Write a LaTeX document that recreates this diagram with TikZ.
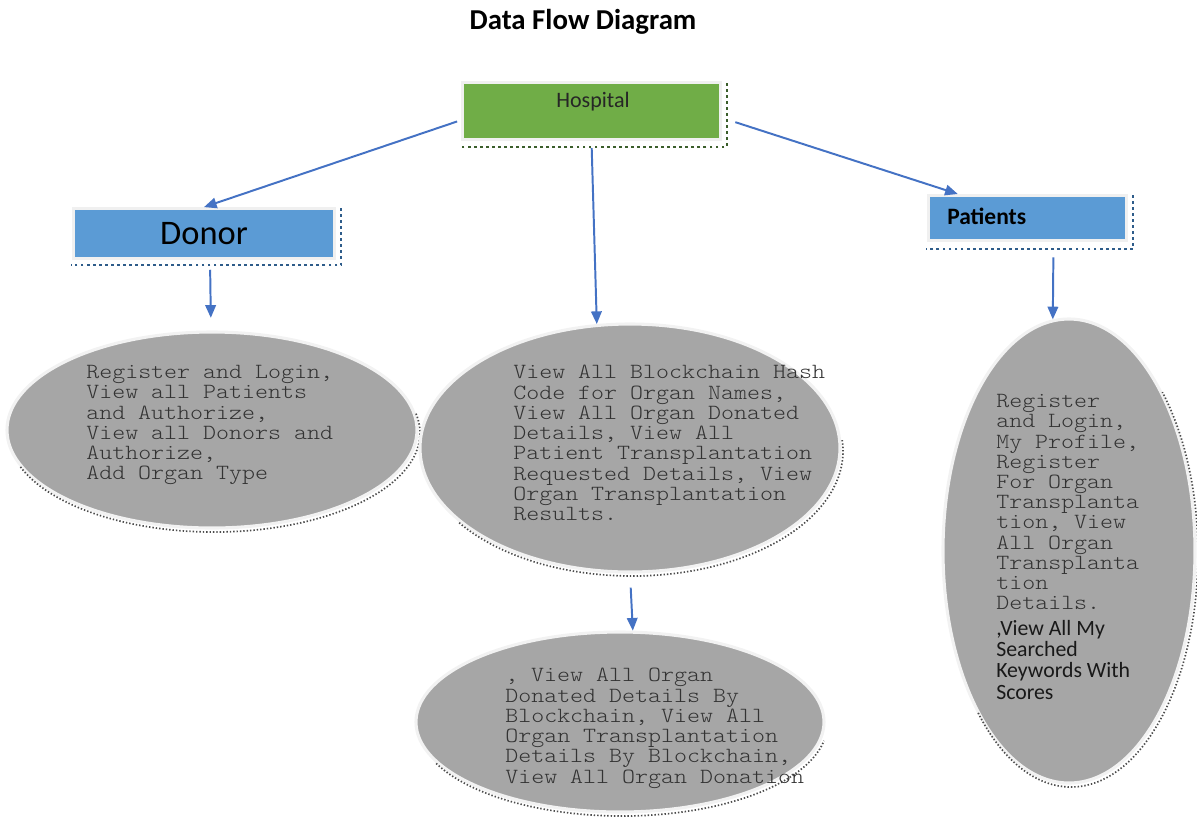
\documentclass[tikz,border=0pt]{standalone}
\usepackage{fontspec}
\setmainfont{Carlito}
\setmonofont[FakeStretch=1.143]{lmmonolt10-regular.otf}
\usetikzlibrary{arrows.meta,shapes.geometric}

\definecolor{hospgreen}{HTML}{70AD47}
\definecolor{hospdark}{HTML}{3B5E2B}
\definecolor{roleblue}{HTML}{5B9BD5}
\definecolor{roledark}{HTML}{2E5C8A}
\definecolor{taskgray}{HTML}{A6A6A6}
\definecolor{flowblue}{HTML}{4472C4}

% fixed line spacing, even where the glyphs are taller than it
\newcommand\tightlines{\lineskiplimit -20pt\relax\lineskip 0pt\relax}

\begin{document}
\begin{tikzpicture}[x=0.25mm,y=0.25mm,
  box/.style={rectangle,draw=gray!12,line width=2pt,inner sep=0pt},
  boxdots/.style={line width=1.9pt,dash pattern=on 2pt off 2.3pt},
  task/.style={ellipse,fill=taskgray,draw=gray!10,line width=2.2pt,inner sep=0pt},
  taskdots/.style={gray!60!black,line width=1.2pt,dash pattern=on 1pt off 1.4pt},
  tasktext/.style={anchor=north west,align=left,inner sep=0pt,text=black!80,
    font=\ttfamily\fontsize{15.4}{14.4}\selectfont\tightlines},
  flow/.style={flowblue,line width=1.4pt,-{Triangle[length=9pt,width=7.5pt]}}]
\useasboundingbox (0,0) rectangle (1197,-830);

\node[font=\bfseries\fontsize{20.5}{24}\selectfont] (title) at (583,-22) {Data Flow Diagram};

%% hospital, donor and patients boxes
\node[box,fill=hospgreen,minimum width=64.5mm,minimum height=14.3mm] (hosp) at (591.5,-111) {};
\node[text=black!85,font=\fontsize{15.7}{18}\selectfont] (hosplabel) at (593,-102) {Hospital};
\draw[boxdots,hospdark] ([shift={(5,-2)}]hosp.north east) |- ([shift={(-1,-6)}]hosp.south west);

\node[box,fill=roleblue,minimum width=65.3mm,minimum height=12.5mm,
  font=\fontsize{24.5}{28}\selectfont] (donor) at (204,-233.5) {Donor};
\draw[boxdots,roledark] ([shift={(5,-1)}]donor.north east) |- ([shift={(-1,-5)}]donor.south west);

\node[box,fill=roleblue,minimum width=49.6mm,minimum height=11.3mm] (pat) at (1027.5,-218) {};
\node[anchor=west,inner sep=0pt,font=\bfseries\fontsize{16.7}{20}\selectfont] (patlabel) at (947,-216) {Patients};
\draw[boxdots,roledark] ([shift={(5,-1)}]pat.north east) |- ([shift={(-1,-7)}]pat.south west);

%% process ovals
\node[task,minimum width=102.5mm,minimum height=49mm] (dtask) at (212,-430) {};
\draw[taskdots] ([shift={(2,-3)}]dtask.center) ++(200:206 and 99) arc[start angle=200,end angle=372,x radius=206,y radius=99];
\node[tasktext] (dtext) at (86,-365) {Register and Login,\\View all Patients\\and Authorize,\\View all Donors and\\Authorize,\\Add Organ Type};

\node[task,minimum width=105mm,minimum height=62mm] (mtask) at (630,-448) {};
\draw[taskdots] ([shift={(2,-3)}]mtask.center) ++(215:211 and 125) arc[start angle=215,end angle=365,x radius=211,y radius=125];
\node[tasktext] (mtext) at (513,-365) {View All Blockchain Hash\\Code for Organ Names,\\View All Organ Donated\\Details, View All\\Patient Transplantation\\Requested Details, View\\Organ Transplantation\\Results.};

\node[task,minimum width=102mm,minimum height=45mm] (btask) at (620,-722) {};
\draw[taskdots] ([shift={(2,-3)}]btask.center) ++(205:205 and 91) arc[start angle=205,end angle=350,x radius=205,y radius=91];
\node[tasktext] (btext) at (505,-668) {, View All Organ\\Donated Details By\\Blockchain, View All\\Organ Transplantation\\Details By Blockchain,\\View All Organ Donation};

\node[task,minimum width=63mm,minimum height=116mm] (ptask) at (1069,-551) {};
\draw[taskdots] ([shift={(2,-3)}]ptask.center) ++(223:127 and 233) arc[start angle=223,end angle=404,x radius=127,y radius=233];
\node[tasktext] (ptext) at (996,-394) {Register\\and Login,\\My Profile,\\Register\\For Organ\\Transplanta\\tion, View\\All Organ\\Transplanta\\tion\\Details.};
\node[anchor=north west,align=left,inner sep=0pt,text=black!90,
  font=\fontsize{15.5}{15.1}\selectfont\tightlines] (psearch) at (996,-620) {,View All My\\Searched\\Keywords With\\Scores};

%% flows
\draw[flow,shorten <=3pt] (hosp.184) -- (donor.north);
\draw[flow,shorten <=5pt] (hosp.south) -- (mtask.105);
\draw[flow,shorten <=10pt] (hosp.357) -- (pat.161);
\draw[flow,shorten <=7pt,shorten >=9pt] ([shift={(6,0)}]donor.south) -- ([shift={(-1,0)}]dtask.north);
\draw[flow,shorten <=10pt] (mtask.south) -- (btask.82);
\draw[flow,shorten <=11pt] ([shift={(26,0)}]pat.south) -- (ptask.94);
\end{tikzpicture}
\end{document}
